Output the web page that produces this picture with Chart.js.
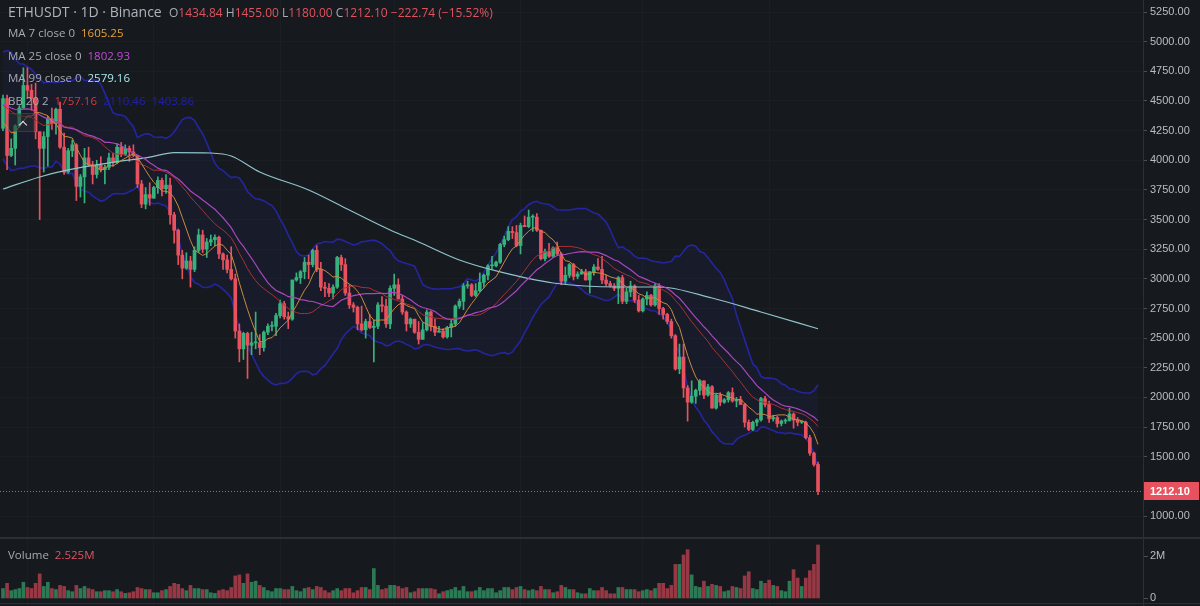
<!DOCTYPE html>
<html><head><meta charset="utf-8">
<script src="https://cdn.jsdelivr.net/npm/chart.js@4.4.1/dist/chart.umd.min.js"></script>
<style>
html,body{margin:0;padding:0;background:#161a1e;}
#wrap{position:relative;width:1200px;height:606px;overflow:hidden;background:#161a1e;}
#c{position:absolute;left:0;top:0;}
.lg{position:absolute;font-family:'Open Sans','Noto Sans',sans-serif;font-size:11.5px;color:#a7abb3;white-space:nowrap;line-height:16px;}
.r{color:#e0535e}
#caret{position:absolute;left:8px;top:113px;width:28px;height:19px;border:1px solid rgba(255,255,255,0.10);background:rgba(40,44,52,0.55);box-sizing:border-box;}
#caret:after{content:"";position:absolute;left:11px;top:8px;width:5px;height:5px;border-left:1.5px solid #e6e6e6;border-top:1.5px solid #e6e6e6;transform:rotate(45deg);}
</style></head><body>
<div id="wrap">
<canvas id="c" width="1200" height="606"></canvas>
<div class="lg" style="left:8px;top:4px;font-size:14px;color:#b0b4bc">ETHUSDT · 1D · Binance</div>
<div class="lg" style="left:169px;top:5px;font-size:12px">O<span class="r">1434.84</span> H<span class="r">1455.00</span> L<span class="r">1180.00</span> C<span class="r">1212.10</span> <span class="r">−222.74 (−15.52%)</span></div>
<div class="lg" style="left:8px;top:25px">MA 7 close 0 &nbsp;<span style="color:#e9a23b">1605.25</span></div>
<div class="lg" style="left:8px;top:48px">MA 25 close 0 &nbsp;<span style="color:#c249d6">1802.93</span></div>
<div class="lg" style="left:8px;top:70px">MA 99 close 0 &nbsp;<span style="color:#a8e8f0">2579.16</span></div>
<div class="lg" style="left:8px;top:93px">BB 20 2 &nbsp;<span style="color:#d63a33">1757.16</span>&nbsp; <span style="color:#2020a8">2110.46</span>&nbsp; <span style="color:#2020a8">1403.86</span></div>
<div id="caret"></div>
<div class="lg" style="left:8px;top:547px">Volume &nbsp;<span class="r">2.525M</span></div>
</div>
<script>
// ---- data (ETHUSDT, 1D, Binance) ----
const startDate = [2021, 10, 25];   // 25 Nov 2021, first visible candle
const preClose = [4320,4590,4600,4530,4480,4520,4620,4810,4730,4640,4720,4660,4650,4630,4570,4210,4290,3990,4300,4440,4270,4080,4340,4270];
const openP = [
4270,4520,4040,4100,4290,4440,4630,4590,4520,4240,
4100,4200,4350,4310,4430,4110,3900,4080,4130,3780,
3860,4020,3960,3880,3960,3920,3940,4020,3980,4110,
4050,4100,4070,4040,3800,3630,3710,3680,3770,3830,
3760,3790,3540,3410,3200,3090,3150,3080,3240,3370,
3250,3310,3330,3350,3210,3160,3080,3000,2560,2410,
2540,2440,2460,2460,2420,2550,2600,2600,2690,2790,
2680,2660,2990,3010,3060,3140,3120,3240,3080,2930,
2920,2880,2930,3180,3120,2880,2780,2760,2620,2570,
2640,2590,2600,2780,2770,2620,2920,2950,2830,2720,
2620,2660,2550,2490,2570,2720,2600,2550,2560,2510,
2590,2620,2770,2810,2940,2950,2860,2900,2970,3030,
3110,3110,3140,3290,3330,3400,3390,3280,3450,3440,
3520,3520,3410,3170,3230,3190,3260,3210,2980,3030,
3120,3020,3040,3060,2990,3060,3100,3080,2990,2960,
2940,2920,3010,2810,2890,2940,2820,2730,2830,2860,
2780,2940,2750,2700,2640,2520,2240,2340,2080,1960,
2010,2060,2140,2020,2090,1910,2020,1960,1980,2040,
1970,1980,1940,1790,1730,1790,1810,1990,1940,1820,
1830,1780,1800,1805,1860,1810,1790,1790,1660,1530,
1434.84];
const highP = [
4550,4550,4180,4300,4460,4780,4780,4640,4650,4240,
4240,4370,4440,4440,4490,4230,4100,4170,4140,3880,
4100,4110,3990,4000,4030,3960,4060,4060,4140,4150,
4130,4120,4130,4040,3830,3770,3810,3780,3860,3850,
3880,3850,3560,3420,3240,3220,3190,3270,3420,3410,
3340,3370,3370,3360,3220,3200,3270,3040,2620,2550,
2550,2550,2720,2530,2560,2620,2640,2710,2820,2810,
2720,2990,3050,3070,3180,3200,3250,3280,3140,2970,
2960,2950,3190,3200,3170,2950,2800,2770,2770,2660,
2700,2650,2800,2850,2830,2940,3040,3000,2860,2730,
2670,2660,2640,2630,2740,2730,2660,2600,2580,2600,
2650,2780,2830,2960,2980,2960,2960,3050,3040,3120,
3190,3150,3300,3360,3440,3440,3450,3470,3530,3580,
3540,3550,3410,3250,3300,3270,3310,3220,3100,3130,
3130,3060,3080,3080,3060,3120,3170,3190,3030,2980,
2960,3020,3030,2920,2980,2950,2860,2840,2890,2870,
2960,2960,2760,2710,2660,2530,2450,2450,2100,2140,
2070,2150,2140,2110,2100,2030,2040,1990,2050,2080,
2000,2010,1950,1810,1800,1820,2000,2010,1970,1850,
1840,1810,1820,1910,1870,1830,1800,1800,1680,1540,
1455];
const lowP = [
4250,3920,4030,3960,4280,4440,4520,4420,4180,3500,
3900,3950,4260,4220,4100,3880,3890,4030,3660,3690,
3640,3950,3800,3850,3900,3800,3920,3950,3970,4030,
4040,3990,4030,3770,3600,3590,3620,3680,3720,3700,
3720,3460,3300,3120,3000,3080,2930,3060,3220,3220,
3180,3280,3280,3170,3080,3050,2990,2500,2300,2320,
2160,2360,2410,2360,2390,2530,2560,2520,2670,2660,
2580,2650,2980,2960,3000,3000,3100,3060,2900,2850,
2850,2830,2920,3070,2860,2750,2720,2570,2560,2500,
2580,2300,2580,2720,2590,2580,2860,2830,2700,2560,
2590,2540,2450,2490,2560,2560,2520,2550,2500,2500,
2510,2600,2750,2740,2920,2850,2850,2890,2930,2990,
3080,3100,3130,3270,3320,3340,3270,3210,3440,3430,
3400,3400,3160,3150,3180,3180,3200,2950,2960,3010,
2990,3000,3040,2990,2880,3030,3070,2960,2940,2930,
2900,2790,2790,2790,2850,2800,2720,2720,2780,2770,
2770,2700,2660,2620,2500,2230,2200,2000,1800,1950,
1950,2020,1990,2010,1910,1900,1930,1950,1960,1960,
1920,1940,1750,1720,1720,1760,1800,1920,1790,1800,
1750,1760,1780,1800,1740,1760,1780,1650,1510,1420,
1180];
const closeP = [
4520,4040,4100,4290,4440,4630,4590,4520,4240,4100,
4200,4350,4310,4430,4110,3900,4080,4130,3780,3860,
4020,3960,3880,3960,3920,3940,4020,3980,4110,4050,
4100,4070,4040,3800,3630,3710,3680,3770,3830,3760,
3790,3540,3410,3200,3090,3150,3080,3240,3370,3250,
3310,3330,3350,3210,3160,3080,3000,2560,2410,2540,
2440,2460,2460,2420,2550,2600,2600,2690,2790,2680,
2660,2990,3010,3060,3140,3120,3240,3080,2930,2920,
2880,2930,3180,3120,2880,2780,2760,2620,2570,2640,
2590,2600,2780,2770,2620,2920,2950,2830,2720,2620,
2660,2550,2490,2570,2720,2600,2550,2560,2510,2590,
2620,2770,2810,2940,2950,2860,2900,2970,3030,3110,
3110,3140,3290,3330,3400,3390,3280,3450,3440,3520,
3520,3410,3170,3230,3190,3260,3210,2980,3030,3120,
3020,3040,3060,2990,3060,3100,3080,2990,2960,2940,
2920,3010,2810,2890,2940,2820,2730,2830,2860,2780,
2940,2750,2700,2640,2520,2240,2340,2080,1960,2010,
2060,2140,2020,2090,1910,2020,1960,1980,2040,1970,
1980,1940,1790,1730,1790,1810,1990,1940,1820,1830,
1780,1800,1805,1860,1810,1790,1790,1660,1530,1435,
1212.10];
const volumeM = [
.45,.70,.35,.40,.45,.75,.50,.45,.70,1.15,
.55,.75,.45,.40,.60,.55,.35,.30,.60,.45,
.55,.45,.40,.30,.30,.35,.35,.30,.40,.30,
.22,.25,.30,.50,.45,.40,.40,.25,.25,.35,
.40,.55,.70,.65,.45,.35,.60,.45,.45,.40,
.40,.25,.22,.35,.40,.35,.50,1.05,1.10,.70,
1.15,.75,.80,.60,.50,.35,.30,.45,.45,.40,
.40,.55,.35,.30,.45,.50,.40,.55,.50,.35,
.25,.35,.45,.35,.45,.45,.25,.35,.50,.50,
.40,1.40,.60,.40,.45,.60,.60,.55,.45,.50,
.25,.30,.45,.45,.45,.45,.40,.20,.30,.35,
.40,.50,.35,.55,.30,.30,.35,.50,.35,.45,
.45,.25,.35,.50,.50,.40,.50,.55,.40,.35,
.40,.35,.55,.40,.40,.25,.30,.60,.50,.40,
.40,.25,.20,.20,.45,.35,.35,.50,.35,.20,
.20,.50,.50,.40,.40,.40,.30,.35,.40,.35,
.45,.70,.70,.45,.60,1.60,1.60,2.05,2.30,1.10,
.55,.50,.80,.55,.65,.60,.55,.30,.35,.55,
.50,.45,1.05,1.25,.45,.40,.80,.70,.85,.60,
.55,.35,.30,.80,1.35,.95,.55,.95,1.30,1.60,
2.525];
// MA 99 at sample candles
const ma99Idx = [0,9,16,26,36,42,51,56,63,75,85,95,102,112,122,135,151,161,174,186,200];
const ma99Val = [3757,3859,3918,3977,4027,4065,4061,4036,3901,3749,3580,3412,3311,3159,3058,2965,2931,2931,2838,2720,2579.16];
const priceTicks = [1000,1500,1750,2000,2250,2500,2750,3000,3250,3500,3750,4000,4250,4500,4750,5000,5250];
const volTicks = [0, 2];
const volTickLabels = ['0', '2M'];
const monthStartIdx = [6,37,68,96,127,157,188];
const lastPrice = 1212.10;

// ---- build ----
const N = closeP.length;
const labels = [];
for (let i = 0; i < N; i++) { const d = new Date(startDate[0], startDate[1], startDate[2] + i); labels.push(d.toISOString().slice(0,10)); }
const idx = closeP.map((_, i) => i);
const allClose = preClose.concat(closeP);
const P = preClose.length;
function sma(k, n){ let s=0; for(let j=k-n+1;j<=k;j++) s+=allClose[j]; return s/n; }
function sd(k, n, m){ let s=0; for(let j=k-n+1;j<=k;j++) s+=(allClose[j]-m)**2; return Math.sqrt(s/n); }
const ma7=[], ma25=[], bbMid=[], bbUp=[], bbLo=[];
idx.forEach(i => {
  const k = i + P;
  ma7.push({x:i, y:sma(k,7)});
  ma25.push({x:i, y:sma(k,25)});
  const m = sma(k,20), s = sd(k,20,m);
  bbMid.push({x:i, y:m}); bbUp.push({x:i, y:m+2*s}); bbLo.push({x:i, y:m-2*s});
});
const UP='#36b37c', DN='#e8515e', VUP='#2c7a55', VDN='#973845';
const isUp = idx.map(i => closeP[i] >= openP[i]);

const tv = {
  id:'tv',
  beforeDraw(chart){ const c=chart.ctx; c.save(); c.fillStyle='#161a1e'; c.fillRect(0,0,chart.width,chart.height); c.restore(); },
  afterDraw(chart){
    const c=chart.ctx, y=chart.scales.y, yv=chart.scales.yv, a=chart.chartArea;
    c.save();
    c.fillStyle='#2b2f37'; c.fillRect(0,537,chart.width,2); c.fillRect(0,603,chart.width,1);
    const py=Math.round(y.getPixelForValue(lastPrice))+0.5;
    c.strokeStyle='#e0505c'; c.lineWidth=1; c.setLineDash([1,2]);
    c.beginPath(); c.moveTo(a.left,py); c.lineTo(a.right,py); c.stroke(); c.setLineDash([]);
    c.fillStyle='#e8525f'; c.fillRect(a.right+1, py-9.5, 55, 18);
    c.fillStyle='#ffffff'; c.font='bold 11px "Liberation Sans", Arial, sans-serif'; c.textBaseline='middle'; c.textAlign='left';
    c.fillText(lastPrice.toFixed(2), a.right+7, py);
    c.font='11px "Liberation Sans", Arial, sans-serif'; c.fillStyle='#b8bcc4';
    volTicks.forEach((v,i)=>{ const vy=Math.round(yv.getPixelForValue(v)); c.fillText(volTickLabels[i], a.right+7, vy); c.fillStyle='#4a4e57'; c.fillRect(a.right+1, vy, 4, 1); c.fillStyle='#b8bcc4'; });
    c.restore();
  }
};

new Chart(document.getElementById('c'), {
  type:'bar',
  data:{ labels, datasets:[
    {type:'line', label:'BB upper', data:bbUp, borderColor:'#25259f', borderWidth:1.6, pointRadius:0, fill:'+1', backgroundColor:'rgba(45,45,175,0.08)', order:20, yAxisID:'y'},
    {type:'line', label:'BB lower', data:bbLo, borderColor:'#25259f', borderWidth:1.6, pointRadius:0, fill:false, order:19, yAxisID:'y'},
    {type:'bar', label:'Volume', data:idx.map(i=>({x:i,y:volumeM[i]})), backgroundColor:idx.map(i=>isUp[i]?VUP:VDN), barThickness:3, grouped:false, borderWidth:0, yAxisID:'yv', order:18},
    {type:'bar', label:'wick', data:idx.map(i=>({x:i,y:[lowP[i],highP[i]]})), backgroundColor:idx.map(i=>isUp[i]?UP:DN), barThickness:1, grouped:false, borderWidth:0, yAxisID:'y', order:11},
    {type:'bar', label:'body', data:idx.map(i=>({x:i,y:[openP[i],closeP[i]]})), backgroundColor:idx.map(i=>isUp[i]?UP:DN), barThickness:3, minBarLength:1, grouped:false, borderWidth:0, yAxisID:'y', order:10},
    {type:'line', label:'BB basis', data:bbMid, borderColor:'#a83236', borderWidth:1, pointRadius:0, fill:false, order:5, yAxisID:'y'},
    {type:'line', label:'MA 99', data:ma99Idx.map((v,i)=>({x:v,y:ma99Val[i]})), borderColor:'#8fc3cb', borderWidth:1.2, pointRadius:0, cubicInterpolationMode:'monotone', fill:false, order:4, yAxisID:'y'},
    {type:'line', label:'MA 25', data:ma25, borderColor:'#a946bd', borderWidth:1.2, pointRadius:0, fill:false, order:3, yAxisID:'y'},
    {type:'line', label:'MA 7', data:ma7, borderColor:'#c98c3c', borderWidth:1, pointRadius:0, fill:false, order:2, yAxisID:'y'}
  ]},
  options:{
    responsive:false, animation:false, devicePixelRatio:1,
    layout:{padding:0},
    plugins:{legend:{display:false}, tooltip:{enabled:false}},
    scales:{
      x:{type:'linear', min:-0.736, max:279.75, offset:false,
         grid:{color:'#1b1e24', drawTicks:false, offset:false}, border:{display:false},
         ticks:{display:false},
         afterBuildTicks:s=>{ s.ticks = monthStartIdx.map(v=>({value:v})); },
         afterFit:s=>{ s.height=0; s.paddingLeft=0; s.paddingRight=0; }},
      y:{type:'linear', position:'right', min:241.1, max:5351.2,
         grid:{color:'#1b1e24', tickColor:'#4a4e57', tickLength:4},
         border:{display:true, color:'#2b2f37'},
         ticks:{color:'#b8bcc4', padding:3, font:{family:'"Liberation Sans", Arial, sans-serif', size:11}, callback:v=>Number(v).toFixed(2)},
         afterBuildTicks:s=>{ s.ticks = priceTicks.map(v=>({value:v})); },
         afterFit:s=>{ s.width=57; s.paddingTop=0; s.paddingBottom=0; }},
      yv:{type:'linear', position:'right', display:false, min:-0.381, max:28.476}
    }
  },
  plugins:[tv]
});
</script>
</body></html>
